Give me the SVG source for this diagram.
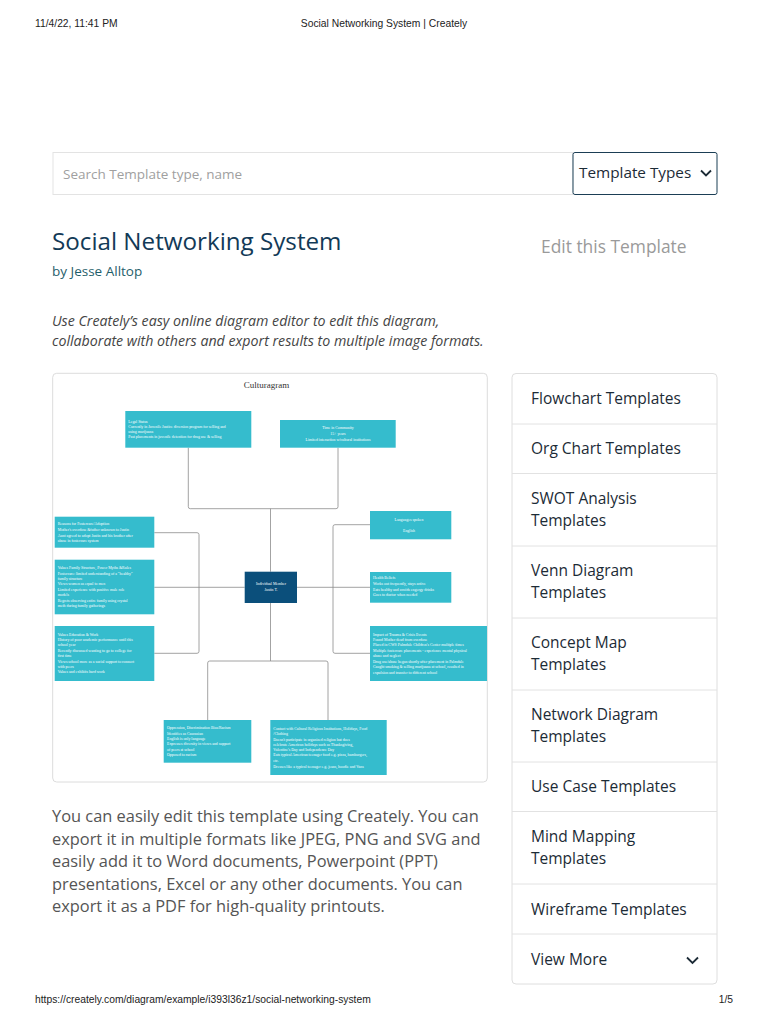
<svg xmlns="http://www.w3.org/2000/svg" width="768" height="1024" viewBox="0 0 768 1024">
<style>
.hdr{font-family:"Liberation Sans",Arial,sans-serif;font-size:10.3px;fill:#222}
.os{font-family:"Open Sans","Liberation Sans",sans-serif}
.side{font-family:"Open Sans","Liberation Sans",sans-serif;font-size:15.5px;fill:#1c2b36}
.body{font-family:"Open Sans","Liberation Sans",sans-serif;font-size:16.4px;fill:#555}
.box{fill:#35bccd}
.t{font-family:"Liberation Serif","Times New Roman",serif;font-size:3.9px;fill:#ffffff}
.conn{fill:none;stroke:#8c8c8c;stroke-width:0.8}
.div{stroke:#e2e2e2;stroke-width:1}
</style>
<rect width="768" height="1024" fill="#ffffff"/>
<text class="hdr" x="35" y="27">11/4/22, 11:41 PM</text>
<text class="hdr" x="384" y="27" text-anchor="middle">Social Networking System | Creately</text>
<text class="hdr" x="35" y="1003">https://creately.com/diagram/example/i393l36z1/social-networking-system</text>
<text class="hdr" x="733" y="1003" text-anchor="end">1/5</text>

<rect x="53" y="152.5" width="520" height="42" fill="#fff" stroke="#e3e3e3"/>
<text class="os" x="63" y="179" font-size="13.5" fill="#a0a0a0">Search Template type, name</text>
<rect x="573" y="152.5" width="144" height="42" rx="2" fill="#fff" stroke="#1b3e55"/>
<text class="os" x="579" y="178" font-size="15.3" fill="#1c2b36">Template Types</text>
<path d="M701,170.5 L706,175.5 L711,170.5" fill="none" stroke="#1c2b36" stroke-width="1.8"/>

<text class="os" x="52" y="250" font-size="24.2" fill="#123a57">Social Networking System</text>
<text class="os" x="541" y="253" font-size="17.4" fill="#9a9a9a">Edit this Template</text>
<text class="os" x="52" y="276" font-size="13.5" fill="#1f5e6b">by Jesse Alltop</text>
<text class="os" x="52" y="326" font-size="14.2" font-style="italic" fill="#444">Use Creately’s easy online diagram editor to edit this diagram,</text>
<text class="os" x="52" y="346" font-size="14.2" font-style="italic" fill="#444">collaborate with others and export results to multiple image formats.</text>

<rect x="52.7" y="373.3" width="434.6" height="408.7" rx="4" fill="#fff" stroke="#dcdcdc"/>
<text x="266.5" y="388" text-anchor="middle" font-family="Liberation Serif,serif" font-size="9" fill="#333">Culturagram</text>

<g id="connectors">
<path class="conn" d="M188.3,447.7 V506.7 Q188.3,508.7 190.3,508.7 H336 Q338,508.7 338,506.7 V447.7"/>
<path class="conn" d="M270.5,508.7 V571.7"/>
<path class="conn" d="M154.3,532.7 H197 Q199,532.7 199,534.7 V651.3 Q199,653.3 197,653.3 H154.3"/>
<path class="conn" d="M154.3,587.3 H244.7"/>
<path class="conn" d="M370,524.7 H335 Q333,524.7 333,526.7 V651.3 Q333,653.3 335,653.3 H370"/>
<path class="conn" d="M297,587.3 H370"/>
<path class="conn" d="M270.5,603 V661"/>
<path class="conn" d="M207.7,720 V663 Q207.7,661 209.7,661 H326 Q328,661 328,663 V720"/>
</g>

<g id="legal-status">
<rect class="box" x="125.3" y="411" width="126" height="36.7"/>
<text class="t"><tspan x="128.3" y="422.6">Legal Status</tspan><tspan x="128.3" y="428">Currently in Juvenile Justice diversion program for selling and</tspan><tspan x="128.3" y="433">using marijuana</tspan><tspan x="128.3" y="438.3">Past placements in juvenile detention for drug use &amp; selling</tspan></text>
</g>
<g id="time-in-community">
<rect class="box" x="280" y="420" width="115.7" height="27.7"/>
<text class="t" text-anchor="middle"><tspan x="338" y="429">Time in Community</tspan><tspan x="338" y="434.7">15+ years</tspan><tspan x="338" y="440.6">Limited interaction w/cultural institutions</tspan></text>
</g>
<g id="reasons">
<rect class="box" x="54.7" y="516.7" width="99.6" height="31"/>
<text class="t"><tspan x="57.7" y="525.3">Reasons for Fostercare/Adoption</tspan><tspan x="57.7" y="531">Mother's overdose &amp;father unknown to Justin</tspan><tspan x="57.7" y="536.6">Aunt agreed to adopt Justin and his brother after</tspan><tspan x="57.7" y="542.3">abuse in fostercare system</tspan></text>
</g>
<g id="values-family">
<rect class="box" x="54.7" y="559.7" width="99.6" height="54.6"/>
<text class="t"><tspan x="57.7" y="569">Values Family Structure, Power Myths &amp;Rules</tspan><tspan x="57.7" y="574.6">Fostercare: limited understanding of a "healthy"</tspan><tspan x="57.7" y="579.6">family structure</tspan><tspan x="57.7" y="585.3">Views women as equal to men</tspan><tspan x="57.7" y="591">Limited experience with positive male role</tspan><tspan x="57.7" y="596.3">models</tspan><tspan x="57.7" y="601.6">Regrets observing entire family using crystal</tspan><tspan x="57.7" y="607">meth during family gatherings</tspan></text>
</g>
<g id="values-education">
<rect class="box" x="54.7" y="626" width="99.6" height="55"/>
<text class="t"><tspan x="57.7" y="635.6">Values Education &amp; Work</tspan><tspan x="57.7" y="641.3">History of poor academic performance until this</tspan><tspan x="57.7" y="646.3">school year</tspan><tspan x="57.7" y="651.6">Recently discussed wanting to go to college for</tspan><tspan x="57.7" y="657.3">first time</tspan><tspan x="57.7" y="662.6">Views school more as a social support to connect</tspan><tspan x="57.7" y="668">with peers</tspan><tspan x="57.7" y="673.3">Values and exhibits hard work</tspan></text>
</g>
<g id="individual-member">
<rect x="244.7" y="571.7" width="52.3" height="31.3" fill="#0b4f7b"/>
<text class="t" text-anchor="middle"><tspan x="271" y="585">Individual Member</tspan><tspan x="271" y="591">Justin T.</tspan></text>
</g>
<g id="languages">
<rect class="box" x="370" y="511" width="81.3" height="28.3"/>
<text class="t" text-anchor="middle"><tspan x="409" y="520.6">Languages spoken</tspan><tspan x="409" y="531.6">English</tspan></text>
</g>
<g id="health-beliefs">
<rect class="box" x="370" y="572" width="81.3" height="30.7"/>
<text class="t"><tspan x="373" y="579.3">Health Beliefs</tspan><tspan x="373" y="585">Works out frequently, stays active</tspan><tspan x="373" y="590.6">Eats healthy and avoids engergy drinks</tspan><tspan x="373" y="596.3">Goes to doctor when needed</tspan></text>
</g>
<g id="impact-trauma">
<rect class="box" x="370" y="626" width="117" height="55"/>
<text class="t"><tspan x="373" y="635.6">Impact of Trauma &amp; Crisis Events</tspan><tspan x="373" y="641.3">Found Mother dead from overdose</tspan><tspan x="373" y="646.3">Placed in CWS Palmdale Children's Center multiple times</tspan><tspan x="373" y="651.6">Multiple fostercare placements - experience mental physical</tspan><tspan x="373" y="657.3">abuse and neglect</tspan><tspan x="373" y="662.9">Drug use/abuse began shortly after placement in Palmdale</tspan><tspan x="373" y="668">Caught smoking &amp; selling marijuana at school, resulted in</tspan><tspan x="373" y="673.6">expulsion and transfer to different school</tspan></text>
</g>
<g id="oppression">
<rect class="box" x="163.7" y="720" width="87.6" height="42.7"/>
<text class="t"><tspan x="167" y="729">Oppression, Discrimination Bias/Racism</tspan><tspan x="167" y="734.6">Identifies as Caucasian</tspan><tspan x="167" y="740.3">English is only language</tspan><tspan x="167" y="745.3">Expresses diversity in views and support</tspan><tspan x="167" y="750.6">of peers at school</tspan><tspan x="167" y="756.3">Opposed to racism</tspan></text>
</g>
<g id="contact-cultural">
<rect class="box" x="270.3" y="720" width="116.4" height="55"/>
<text class="t"><tspan x="273.3" y="730">Contact with Cultural Religious Institutions, Holidays, Food</tspan><tspan x="273.3" y="735">/Clothing</tspan><tspan x="273.3" y="741">Doesn't participate in organized religion but does</tspan><tspan x="273.3" y="746">celebrate American holidays such as Thanksgiving,</tspan><tspan x="273.3" y="751.3">Valentine's Day and Independence Day</tspan><tspan x="273.3" y="756.3">Eats typical American teenager food e.g. pizza, hamburgers,</tspan><tspan x="273.3" y="761.6">etc.</tspan><tspan x="273.3" y="767.6">Dresses like a typical teenager e.g. jeans, hoodie and Vans</tspan></text>
</g>

<text class="body"><tspan x="52" y="822">You can easily edit this template using Creately. You can</tspan><tspan x="52" y="844.5">export it in multiple formats like JPEG, PNG and SVG and</tspan><tspan x="52" y="867">easily add it to Word documents, Powerpoint (PPT)</tspan><tspan x="52" y="889.5">presentations, Excel or any other documents. You can</tspan><tspan x="52" y="912">export it as a PDF for high-quality printouts.</tspan></text>

<g id="sidebar">
<rect x="512" y="373.5" width="205" height="610.5" rx="4" fill="#fff" stroke="#dedede"/>
<line class="div" x1="512" y1="424" x2="717" y2="424"/>
<line class="div" x1="512" y1="473.5" x2="717" y2="473.5"/>
<line class="div" x1="512" y1="546" x2="717" y2="546"/>
<line class="div" x1="512" y1="618" x2="717" y2="618"/>
<line class="div" x1="512" y1="690" x2="717" y2="690"/>
<line class="div" x1="512" y1="762" x2="717" y2="762"/>
<line class="div" x1="512" y1="811.5" x2="717" y2="811.5"/>
<line class="div" x1="512" y1="884" x2="717" y2="884"/>
<line class="div" x1="512" y1="934" x2="717" y2="934"/>
<text class="side" x="531" y="403.5">Flowchart Templates</text>
<text class="side" x="531" y="454">Org Chart Templates</text>
<text class="side"><tspan x="531" y="503.5">SWOT Analysis</tspan><tspan x="531" y="525.5">Templates</tspan></text>
<text class="side"><tspan x="531" y="576">Venn Diagram</tspan><tspan x="531" y="598">Templates</tspan></text>
<text class="side"><tspan x="531" y="648">Concept Map</tspan><tspan x="531" y="670">Templates</tspan></text>
<text class="side"><tspan x="531" y="720">Network Diagram</tspan><tspan x="531" y="742">Templates</tspan></text>
<text class="side" x="531" y="791.5">Use Case Templates</text>
<text class="side"><tspan x="531" y="842">Mind Mapping</tspan><tspan x="531" y="864">Templates</tspan></text>
<text class="side" x="531" y="914.5">Wireframe Templates</text>
<text class="side" x="531" y="964.5">View More</text>
<path d="M687,957.5 L692.5,963 L698,957.5" fill="none" stroke="#1c2b36" stroke-width="1.8"/>
</g>
</svg>
